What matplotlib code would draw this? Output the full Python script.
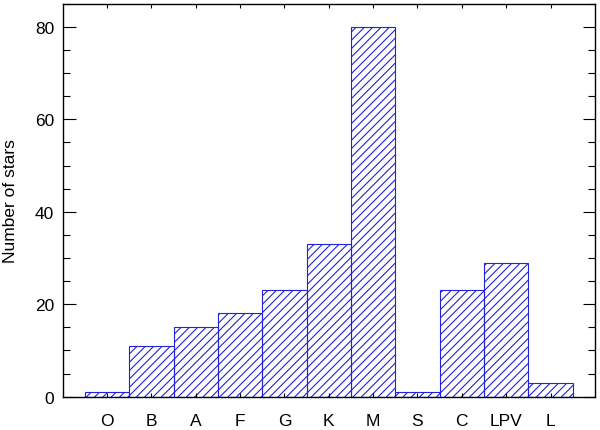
import matplotlib
matplotlib.use("Agg")
import matplotlib.pyplot as plt
from matplotlib.ticker import MultipleLocator, FixedLocator

plt.rcParams["font.family"] = ["Liberation Sans", "DejaVu Sans"]
plt.rcParams["hatch.linewidth"] = 0.8
plt.rcParams["hatch.color"] = "#2222dd"

spectral_types = ["O", "B", "A", "F", "G", "K", "M", "S", "C", "LPV", "L"]
n_stars = [1, 11, 15, 18, 23, 33, 80, 1, 23, 29, 3]

fig = plt.figure(figsize=(6, 4.31), dpi=100)
ax = fig.add_axes([0.1045, 0.0773, 0.887, 0.9117])

positions = list(range(1, len(spectral_types) + 1))
ax.bar(positions, n_stars, width=1.0, color="none", edgecolor="#2222dd",
       linewidth=0.8, hatch="////")

ax.set_xlim(0, 12)
ax.set_ylim(0, 85)

ax.xaxis.set_major_locator(FixedLocator(positions))
ax.set_xticklabels(spectral_types)
ax.yaxis.set_major_locator(MultipleLocator(20))
ax.yaxis.set_minor_locator(MultipleLocator(5))

ax.tick_params(axis="x", which="major", direction="in", top=True, bottom=True,
               length=3, width=0.8, pad=12, labelsize=12.5)
ax.tick_params(axis="y", which="major", direction="in", left=True, right=True,
               length=9, width=0.8, pad=6, labelsize=12.5)
ax.tick_params(axis="y", which="minor", direction="in", left=True, right=True,
               length=5, width=0.8)

for s in ax.spines.values():
    s.set_linewidth(1.0)

ax.set_ylabel("Number of stars", fontsize=12.5, labelpad=12)

fig.savefig("out.png", dpi=100)
